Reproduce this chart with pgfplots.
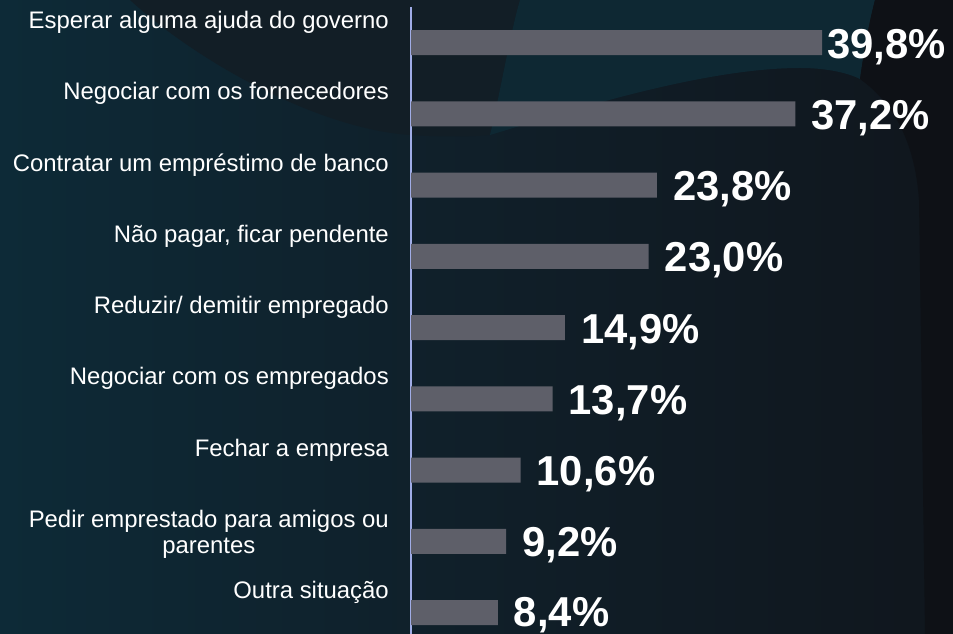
\documentclass[border=0pt]{standalone}
\usepackage{pgfplots}
\pgfplotsset{compat=1.18}
\usepackage{fontspec}
\setmainfont{Liberation Sans}
\definecolor{bgL}{RGB}{13,42,55}
\definecolor{bgM}{RGB}{16,31,41}
\definecolor{bgR}{RGB}{16,22,29}
\definecolor{tealT}{RGB}{14,40,51}
\definecolor{darkA}{RGB}{18,30,38}
\definecolor{darkR}{RGB}{14,17,22}
\definecolor{barc}{RGB}{94,95,105}
\definecolor{axc}{RGB}{160,172,230}
\pgfplotstableread{
y v dx dy lab
0 39.8 5 -15.5 {39,8\%}
1 37.2 16 -15.5 {37,2\%}
2 23.8 16 -15.5 {23,8\%}
3 23.0 16 -15.5 {23,0\%}
4 14.9 16 -15.5 {14,9\%}
5 13.7 16 -15.5 {13,7\%}
6 10.6 16 -15.5 {10,6\%}
7 9.2 16 -15.5 {9,2\%}
8 8.4 16 -13.5 {8,4\%}
}\datatable
\begin{document}
\begin{tikzpicture}[x=1bp,y=1bp]
\path[use as bounding box] (0,0) rectangle (953,634);
\shade[left color=bgL, right color=bgR, middle color=bgM] (0,0) rectangle (953,634);
% decorative background shapes (y measured from bottom)
\fill[darkA] (130,634) .. controls (200,570) and (320,505) .. (410,499)
  .. controls (440,497) and (470,497) .. (490,499)
  .. controls (500,540) and (510,600) .. (520,634) -- cycle;
\fill[tealT] (520,634) .. controls (510,600) and (500,540) .. (490,499)
  .. controls (560,520) and (700,566) .. (800,566)
  .. controls (830,566) and (850,560) .. (860,555)
  .. controls (865,590) and (870,615) .. (875,634) -- cycle;
\fill[darkR] (875,634) .. controls (870,615) and (865,590) .. (860,555)
  .. controls (895,530) and (915,490) .. (919,434)
  -- (925,0) -- (953,0) -- (953,634) -- cycle;
\begin{axis}[
  at={(411bp,0bp)}, anchor=south west,
  scale only axis, width=542bp, height=627bp,
  xmin=0, xmax=52.47, ymin=-0.5, ymax=8.3,
  y dir=reverse,
  axis x line=none, axis y line*=left,
  y axis line style={draw=axc, line width=2bp},
  ytick=\empty, xtick=\empty,
  clip=false,
  xbar, bar width=0.351,
  nodes near coords,
  point meta=explicit symbolic,
  visualization depends on={\thisrow{dx} \as \dx},
  visualization depends on={\thisrow{dy} \as \dy},
  every node near coord/.style={anchor=base west, inner sep=0pt, xshift=\dx bp, yshift=\dy bp,
    text=white, font=\fontsize{41.8bp}{44bp}\selectfont\bfseries},
]
\addplot[fill=barc, draw=none] table[x=v, y=y, meta=lab] {\datatable};
\begin{scope}[every node/.style={anchor=base east, inner sep=0pt, text=white, xshift=-22bp, yshift=14bp, font=\fontsize{23.9bp}{26bp}\selectfont}]
\node at (axis cs:0,0) {Esperar alguma ajuda do governo};
\node at (axis cs:0,1) {Negociar com os fornecedores};
\node at (axis cs:0,2) {Contratar um empréstimo de banco};
\node at (axis cs:0,3) {Não pagar, ficar pendente};
\node at (axis cs:0,4) {Reduzir/ demitir empregado};
\node at (axis cs:0,5) {Negociar com os empregados};
\node at (axis cs:0,6) {Fechar a empresa};
\node (p8) at (axis cs:0,7) {Pedir emprestado para amigos ou};
\node at (axis cs:0,8) {Outra situação};
\end{scope}
\node[anchor=base, inner sep=0pt, text=white, font=\fontsize{23.9bp}{26bp}\selectfont] at ([yshift=-26bp]p8.base) {parentes};
\end{axis}
\end{tikzpicture}
\end{document}
